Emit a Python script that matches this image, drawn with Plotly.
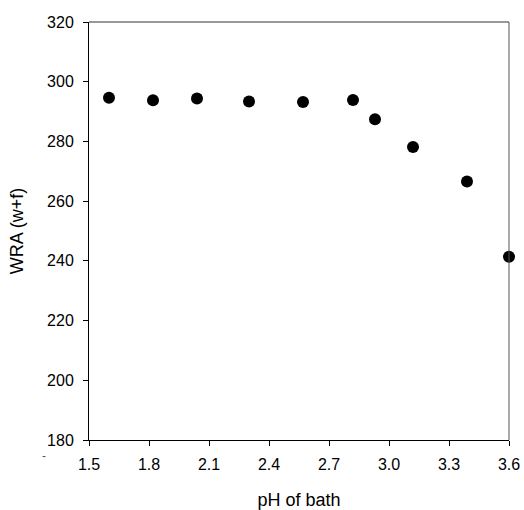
import plotly.graph_objects as go

# pH of the bath and the resulting wrinkle recovery angle (warp + fill)
ph_values = [1.60, 1.82, 2.04, 2.30, 2.57, 2.82, 2.93, 3.12, 3.39, 3.60]
wra_values = [294.6, 293.8, 294.4, 293.4, 293.2, 293.9, 287.4, 278.1, 266.6, 241.4]

x_ticks = [1.5, 1.8, 2.1, 2.4, 2.7, 3.0, 3.3, 3.6]
x_tick_text = ["1.5", "1.8", "2.1", "2.4", "2.7", "3.0", "3.3", "3.6"]
y_ticks = [180, 200, 220, 240, 260, 280, 300, 320]

font_family = "Liberation Sans, Arial, sans-serif"
tick_font = dict(family=font_family, size=16, color="black")
title_font = dict(family=font_family, size=18, color="black")

fig = go.Figure(
    go.Scatter(
        x=ph_values,
        y=wra_values,
        mode="markers",
        marker=dict(size=12, color="black"),
        cliponaxis=False,
        showlegend=False,
    )
)

axis_common = dict(
    ticks="outside",
    ticklen=5,
    tickwidth=1,
    tickcolor="black",
    showline=True,
    linecolor="black",
    linewidth=1,
    showgrid=False,
    zeroline=False,
    tickfont=tick_font,
    automargin=False,
)

fig.update_xaxes(
    range=[1.5, 3.6],
    tickvals=x_ticks,
    ticktext=x_tick_text,
    ticklabelstandoff=5,
    title=dict(text="pH of bath", font=title_font, standoff=22),
    **axis_common,
)
fig.update_yaxes(
    range=[180, 320],
    tickvals=y_ticks,
    ticklabelstandoff=6,
    title=dict(text="WRA (w+f)", font=title_font, standoff=18),
    **axis_common,
)

# lighter top and right edges of the frame
fig.add_shape(type="line", xref="x domain", yref="y domain", x0=0, x1=1, y0=1, y1=1,
              line=dict(color="#333333", width=1))
fig.add_shape(type="line", xref="x domain", yref="y domain", x0=1, x1=1, y0=0, y1=1,
              line=dict(color="#555555", width=1))

fig.add_annotation(
    text="-", xref="x domain", yref="y domain", x=-0.117, y=-0.06,
    showarrow=False, font=dict(family=font_family, size=12, color="#555555"),
)

fig.update_layout(
    width=524,
    height=510,
    margin=dict(l=89, r=15, t=22, b=70),
    paper_bgcolor="white",
    plot_bgcolor="white",
)

fig.write_html("out.html")
